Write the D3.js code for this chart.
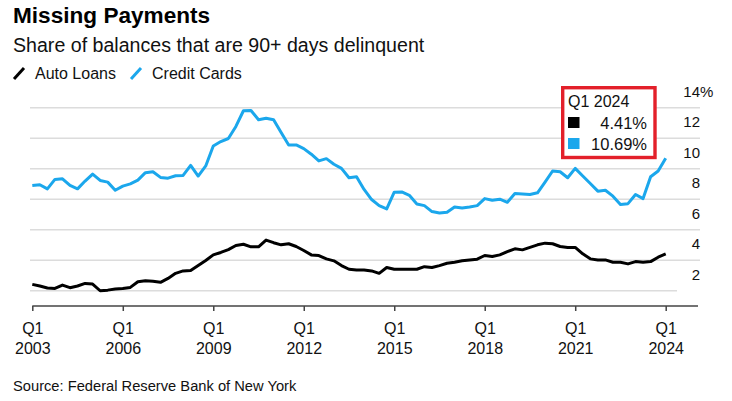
<!DOCTYPE html>
<html>
<head>
<meta charset="utf-8">
<script src="https://cdn.jsdelivr.net/npm/d3@7"></script>
<style>
  body { margin: 0; background: #fff; }
  text { font-family: "Liberation Sans", Arial, sans-serif; }
</style>
</head>
<body>
<div id="chart"></div>
<script>
// quarters 2003 Q1 .. 2024 Q1
var quarters = [];
for (var yr = 2003; yr <= 2024; yr++) {
  for (var q = 1; q <= 4; q++) {
    if (yr == 2024 && q > 1) break;
    quarters.push(yr + " Q" + q);
  }
}

var autoLoans = [
  2.42, 2.31, 2.18, 2.15, 2.37, 2.20, 2.31, 2.48, 2.44, 2.00, 2.04, 2.11,
  2.15, 2.22, 2.59, 2.66, 2.62, 2.55, 2.81, 3.14, 3.30, 3.32, 3.65, 3.98,
  4.35, 4.51, 4.70, 4.97, 5.05, 4.88, 4.88, 5.32, 5.15, 5.01, 5.08, 4.90,
  4.64, 4.35, 4.31, 4.09, 3.96, 3.65, 3.41, 3.36, 3.36, 3.30, 3.14, 3.52,
  3.41, 3.41, 3.41, 3.41, 3.58, 3.52, 3.65, 3.80, 3.87, 3.96, 4.02, 4.07,
  4.31, 4.24, 4.35, 4.57, 4.75, 4.68, 4.84, 5.01, 5.12, 5.08, 4.90, 4.84,
  4.84, 4.42, 4.09, 4.02, 4.02, 3.87, 3.87, 3.76, 3.91, 3.87, 3.91, 4.20,
  4.41
];

var creditCards = [
  8.90, 8.95, 8.68, 9.30, 9.34, 8.90, 8.68, 9.19, 9.65, 9.23, 9.12, 8.59,
  8.86, 9.01, 9.25, 9.74, 9.80, 9.43, 9.38, 9.54, 9.56, 10.22, 9.52, 10.18,
  11.49, 11.78, 11.98, 12.77, 13.80, 13.82, 13.21, 13.31, 13.21, 12.37, 11.56, 11.56,
  11.32, 10.95, 10.51, 10.66, 10.29, 10.02, 9.41, 9.47, 8.64, 7.98, 7.58, 7.36,
  8.46, 8.48, 8.26, 7.69, 7.58, 7.19, 7.10, 7.14, 7.49, 7.43, 7.49, 7.58,
  8.04, 7.93, 8.00, 7.80, 8.37, 8.35, 8.31, 8.42, 9.12, 9.85, 9.80, 9.41,
  10.02, 9.52, 9.03, 8.53, 8.59, 8.20, 7.65, 7.71, 8.31, 8.04, 9.47, 9.85,
  10.69
];

var tickQuarters = ["2003 Q1", "2006 Q1", "2009 Q1", "2012 Q1", "2015 Q1", "2018 Q1", "2021 Q1", "2024 Q1"];
var yTicks = [2, 4, 6, 8, 10, 12, 14];
var seriesNames = ["Auto Loans", "Credit Cards"];
var colors = ["#000000", "#1ba7ec"];

var width = 732, height = 401;

var svg = d3.select("#chart")
  .append("svg")
    .attr("width", width)
    .attr("height", height);

var x = d3.scalePoint()
  .domain(quarters)
  .range([32.3, 665.7]);

var y = d3.scaleLinear()
  .domain([1, 14])
  .range([306, 107.7]);

// gridlines
svg.selectAll(".grid")
  .data(yTicks)
  .enter()
  .append("line")
    .attr("x1", 30)
    .attr("x2", function(d) { return d == 2 ? 677 : 700; })
    .attr("y1", function(d) { return y(d); })
    .attr("y2", function(d) { return y(d); })
    .style("stroke", "#dcdcdc")
    .style("stroke-width", 1.5);

// y labels sit above their gridline
svg.selectAll(".ylab")
  .data(yTicks)
  .enter()
  .append("text")
    .attr("x", 700)
    .attr("y", function(d) { return y(d) - 11; })
    .attr("text-anchor", "end")
    .attr("font-size", 15)
    .style("fill", "#111")
    .text(function(d) { return d; });

svg.append("text")
  .attr("x", 700)
  .attr("y", y(14) - 11)
  .attr("font-size", 15)
  .style("fill", "#111")
  .text("%");

// x axis
var xAxis = svg.append("g")
  .attr("transform", "translate(0,306)")
  .call(d3.axisBottom(x).tickValues(tickQuarters).tickSize(5).tickSizeOuter(0).tickFormat(""));

xAxis.select(".domain").remove();
xAxis.append("line")
  .attr("x1", 32.3)
  .attr("x2", 698)
  .style("stroke", "#444")
  .style("stroke-width", 1.5);
xAxis.selectAll(".tick line")
  .style("stroke", "#444")
  .style("stroke-width", 1.5);

var tickText = xAxis.selectAll(".tick")
  .append("text")
    .attr("text-anchor", "middle")
    .attr("font-size", 16)
    .style("fill", "#111");
tickText.append("tspan")
  .attr("x", 0)
  .attr("y", 27.5)
  .text(function(d) { return d.split(" ")[1]; });
tickText.append("tspan")
  .attr("x", 0)
  .attr("y", 47.5)
  .text(function(d) { return d.split(" ")[0]; });

// lines
var line = d3.line()
  .x(function(d, i) { return x(quarters[i]); })
  .y(function(d) { return y(d); });

[autoLoans, creditCards].forEach(function(s, k) {
  svg.append("path")
    .datum(s)
    .attr("d", line)
    .style("fill", "none")
    .style("stroke", colors[k])
    .style("stroke-width", 3)
    .style("stroke-linejoin", "round");
});

// title block
svg.append("text")
  .attr("x", 13).attr("y", 23)
  .attr("font-size", 22.6)
  .attr("font-weight", "bold")
  .style("fill", "#000")
  .text("Missing Payments");

svg.append("text")
  .attr("x", 13).attr("y", 52)
  .attr("font-size", 19.6)
  .style("fill", "#111")
  .text("Share of balances that are 90+ days delinquent");

// legend
var legendX = [13, 130];
var legendG = svg.selectAll(".legend")
  .data(seriesNames)
  .enter()
  .append("g")
    .attr("transform", function(d, i) { return "translate(" + legendX[i] + ",0)"; });
legendG.append("line")
  .attr("x1", 1).attr("y1", 79)
  .attr("x2", 11).attr("y2", 68)
  .style("stroke", function(d, i) { return colors[i]; })
  .style("stroke-width", 3);
legendG.append("text")
  .attr("x", 22).attr("y", 78.5)
  .attr("font-size", 16)
  .style("fill", "#111")
  .text(function(d) { return d; });

// latest value box
var last = quarters.length - 1;
var box = svg.append("g");
box.append("rect")
  .attr("x", 562.7).attr("y", 87.7)
  .attr("width", 92.3).attr("height", 69.8)
  .style("fill", "#fff")
  .style("stroke", "#e3202a")
  .style("stroke-width", 3.4);
box.append("text")
  .attr("x", 568).attr("y", 107)
  .attr("font-size", 16)
  .style("fill", "#111")
  .text(quarters[last].split(" ")[1] + " " + quarters[last].split(" ")[0]);
[autoLoans, creditCards].forEach(function(s, k) {
  box.append("rect")
    .attr("x", 568).attr("y", 117 + k * 21)
    .attr("width", 11.5).attr("height", 11)
    .style("fill", colors[k]);
  box.append("text")
    .attr("x", 647).attr("y", 128.5 + k * 21)
    .attr("text-anchor", "end")
    .attr("font-size", 16.5)
    .style("fill", "#111")
    .text(s[last].toFixed(2) + "%");
});

// source
svg.append("text")
  .attr("x", 13).attr("y", 391)
  .attr("font-size", 14.7)
  .style("fill", "#111")
  .text("Source: Federal Reserve Bank of New York");
</script>
</body>
</html>
